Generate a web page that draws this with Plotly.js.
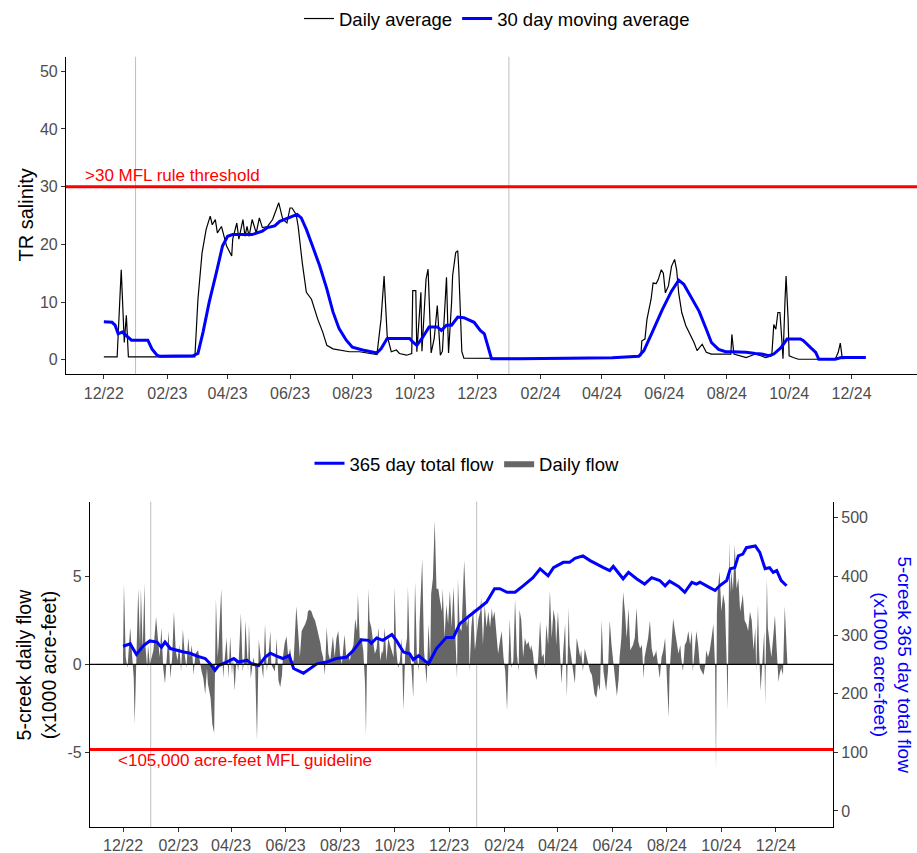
<!DOCTYPE html>
<html>
<head>
<meta charset="utf-8">
<script src="https://cdn.plot.ly/plotly-3.0.1.min.js"></script>
<style>
html,body{margin:0;padding:0;background:#ffffff;}
#chart{width:917px;height:853px;}
</style>
</head>
<body>
<div id="chart"></div>
<script>
// ---------------- DATA (days counted from 2022-12-01) ----------------
const START_DATE = '2022-12-01';

// TR salinity - daily average
const salDay = [0,13,17,20,22,24,52,89,92,96,
  100,104,106,109,111,115,120,122,125,126,
  130,132,136,138,140,142,145,149,152,155,
  160,165,169,171,175,179,182,184,188,190,
  194,198,203,206,209,214,218,224,230,240,
  250,260,267,271,274,277,281,286,289,296,
  301,302,305,306,310,311,315,317,320,323,
  326,329,331,335,337,340,341,344,346,347,
  350,352,400,450,497,525,526,529,531,535,
  537,540,542,545,547,549,552,555,558,560,
  562,565,569,574,577,580,585,589,594,608,
  613,614,616,628,637,647,653,655,657,659,
  661,663,664,666,667,669,670,674,679,715,
  718,720,722,743];
const salDaily = [0.5,0.5,15.6,3,7.7,0.5,0.5,0.5,10.5,18.5,
  22.6,24.9,23.4,24.3,22,23.1,19.7,19.1,18,20.9,
  23.7,20.9,24.3,21.4,23.1,21.4,24.3,22,24.6,22.9,
  23.1,24.3,26.3,27.2,24.3,23.7,26.3,26.3,25.2,23.1,
  16.8,11.7,10.5,8.8,7.1,4.8,2.5,1.9,1.7,1.4,
  1.4,1.1,0.9,7,14.5,4.2,1.4,1.7,1.1,0.8,
  1.1,12,12,1.4,11.7,1.5,14,15.7,1.2,3.7,
  9.4,0.8,1.5,14.3,1.2,10,14.6,18.6,18.9,15.7,
  1.4,0.3,0.2,0.2,0.3,0.7,3.3,3.6,7,10.5,
  13.3,13.2,13.9,15.6,15,11.6,12.8,16.2,17.4,15.6,
  11.6,8.2,5.9,4.1,3,1.6,2.7,1.3,1,1,
  1,4.4,1,0.4,1,0.4,0.7,6.1,5.3,8.2,
  8.2,3,0.2,10.5,14.5,7,0.7,0.4,0.1,0.1,
  1.3,2.9,0.2,0.4];

// TR salinity - 30 day moving average
const maDay = [0,8,11,14,18,22,27,43,47,52,
  55,87,92,97,103,110,116,121,126,145,
  150,155,160,167,172,182,189,193,198,204,
  211,218,224,230,237,243,253,267,271,277,
  299,302,306,311,318,326,330,335,340,346,
  352,362,368,372,379,406,450,497,523,528,
  536,546,555,562,567,575,582,589,594,601,
  608,614,628,637,643,650,655,662,668,681,
  684,691,696,699,715,721,745];
const maVal = [6.6,6.5,6,4.5,4.8,4.2,3.4,3.4,1.9,0.8,
  0.6,0.7,1.1,4.8,10,15.1,19.7,21.4,21.7,21.7,
  22,22.3,22.9,23.2,24,24.7,25.2,24.6,22.6,19.7,
  16.3,12.3,8.3,5.4,3.4,2.2,1.7,1.2,1.9,3.7,
  3.7,3.1,2.5,3.7,5.7,5.7,5.1,6,6,7.4,
  7.3,6.5,5.1,4.5,0.2,0.2,0.25,0.35,0.6,1.6,
  4.7,8.7,11.9,13.8,13.1,10.5,8.4,5.3,3,1.8,
  1.4,1.4,1.3,1.1,1,0.7,1,2.1,3.6,3.6,
  3.3,2.1,1.3,0.1,0.1,0.4,0.4];

// 5-creek daily flow (x1000 acre-feet)
const flowDay = [0,1,3,5,8,10,12,13,15,17,
  19,20,22,24,25,27,28,30,34,37,
  39,41,43,45,47,49,51,53,55,57,
  59,61,63,65,67,69,71,73,75,77,
  79,81,84,88,90,92,94,95,98,100,
  102,103,104,106,107,110,111,112,114,116,
  118,120,122,123,125,127,129,132,134,136,
  137,140,141,143,146,148,150,151,152,155,
  157,159,161,163,165,166,170,172,174,176,
  178,179,181,183,185,187,189,191,193,194,
  196,198,200,202,204,206,207,209,211,213,
  215,217,219,221,222,224,226,228,230,232,
  235,237,239,241,243,245,248,250,252,254,
  256,258,260,262,263,265,267,269,271,272,
  273,275,276,278,280,282,284,286,288,290,
  291,293,295,297,299,301,303,304,306,308,
  310,312,314,316,318,319,321,323,325,327,
  329,331,332,335,337,340,342,344,345,347,
  349,351,353,355,357,358,360,362,364,366,
  368,370,372,374,375,377,379,382,385,387,
  388,390,392,394,398,400,401,403,405,407,
  409,411,413,414,416,418,420,422,424,426,
  428,430,431,433,435,437,439,441,443,444,
  446,448,450,452,454,456,457,459,461,463,
  465,467,469,471,472,474,476,478,480,482,
  484,485,487,489,491,493,495,497,499,500,
  502,504,506,508,510,512,513,515,517,519,
  523,525,527,528,530,532,534,536,538,540,
  541,543,545,547,549,551,553,555,556,558,
  560,562,564,566,568,569,571,573,575,577,
  579,581,583,584,586,588,590,592,594,596,
  597,599,601,603,605,607,609,611,612,614,
  616,618,620,622,624,625,627,629,631,633,
  635,637,638,640,642,644,646,648,650,652,
  653,655,657,659,661,663,664,665,666,668,
  670,672,674,676,677,679,680,681,683,685,
  687,689,691,693,694,696,698,700,702,704,
  706,708,709,711,712,714,716,718,719,721,
  722,724,726,728,730,732,734,735,737,739,
  741,743,744];
const flowVal = [0.6,4.6,0.4,-0.2,2.1,0.8,-0.8,-3.4,0.8,4.3,
  1.1,4.3,0.8,4.6,1.1,-0.2,1.1,0,0.8,2.7,
  1.5,0.4,2.1,-0.2,-1.1,0.4,1.9,-0.8,0.4,3.0,
  0.8,0.2,1.1,-0.4,2.0,0.6,-0.2,1.5,0.4,1.1,
  -0.6,0.6,0.8,-0.4,-0.8,-1.7,-0.2,-1.1,-1.9,-3.4,
  -3.9,-0.2,3.7,0.4,1.1,4.3,1.1,-0.8,0.4,1.5,
  -0.8,1.6,-0.6,0.4,-1.5,0.4,-0.4,2.9,-0.4,0.4,
  2.5,-0.4,2.3,-0.8,0.4,-0.2,-4.3,-0.2,1.4,0,
  -0.8,2.3,-0.4,0.6,1.9,0,-0.4,1.5,-0.9,-1.3,
  -0.6,0.4,1.2,1.6,0.4,0.9,0.2,0.2,2.6,3.3,
  1.9,0.4,1.9,2.1,2.3,2.6,3.0,3.1,3.0,2.7,
  2.5,2.1,1.7,1.2,0.8,0.4,-0.6,2.1,0.6,0.2,
  1.6,0.4,1.5,1.9,0.6,0,1.7,0.4,0.6,0.2,
  0.8,1.1,2.6,1.9,4.0,1.5,1.5,0.8,-1.1,-4.0,
  -0.4,4.3,2.5,2.1,1.3,0.6,0.9,2.1,0.2,0.8,
  0.6,2.1,0.2,1.5,1.1,0.8,0.4,4.4,0.8,-0.2,
  0.2,1.5,-2.6,0.8,1.5,4.4,0.8,-0.2,-1.9,4.7,
  0.6,-0.4,2.3,6.0,0.8,-1.1,2.3,0.2,4.0,4.9,
  8.2,4.3,4.3,3.6,3.0,4.3,1.5,3.4,2.3,4.2,
  2.1,4.4,2.1,-0.8,4.9,2.1,1.9,5.9,2.1,2.8,
  -0.4,2.1,3.2,0.8,2.6,3.0,3.8,1.1,3.4,2.1,
  3.0,2.1,3.2,2.6,3.0,1.5,0.6,1.3,1.9,0.4,
  -0.4,-2.6,-0.4,2.6,-0.2,0.2,3.7,0.6,-0.4,3.1,
  2.5,0.4,1.5,1.1,1.3,0.8,1.1,0.6,-0.4,-0.9,
  0.4,2.5,0.4,0.6,-0.2,2.3,1.1,4.2,1.5,3.1,
  2.5,1.1,3.0,0.8,-1.1,0.8,2.3,-1.9,3.2,1.1,
  0.4,-0.4,-1.1,1.5,0.8,0.4,0.8,-0.4,0.9,0.4,
  -0.4,-0.6,-1.3,-1.7,-1.9,-1.1,-1.5,2.5,-0.4,-1.1,
  -1.5,-0.4,2.5,1.1,0.2,-0.8,-1.8,-0.8,0.4,1.5,
  4.1,3.0,1.5,3.2,0.8,0.9,1.1,1.5,3.2,1.3,
  0.9,1.1,-0.8,0.4,1.1,1.5,2.5,0.9,0.4,0.6,
  0.8,-0.2,-0.8,0.4,0.8,1.5,-0.4,-3.0,-0.4,1.1,
  2.6,1.9,1.1,0.6,1.1,0.4,-0.4,1.1,1.3,1.9,
  1.1,1.9,-0.4,0.8,1.9,1.1,-0.2,-0.4,-0.6,0,
  0.8,0.4,0.8,1.5,2.3,-0.2,-6.0,3.0,4.2,5.3,
  3.0,4.0,3.4,0,-2.6,7.0,4.0,5.3,4.2,6.8,
  4.3,4.9,3.0,3.6,4.0,2.5,2.3,1.9,3.0,2.5,
  0.8,2.1,-0.4,3.4,1.1,-1.5,0.6,1.9,-2.3,4.9,
  2.1,1.1,0.4,1.5,2.8,0.8,-1.0,-0.6,-0.2,-0.6,
  3.3,1.0,0];

// 5-creek 365 day total flow (x1000 acre-feet)
const totDay = [0,8,15,23,30,38,43,47,53,60,
  68,75,83,92,97,103,107,116,124,129,
  139,144,152,159,165,172,179,186,191,202,
  209,217,228,239,250,258,267,275,278,284,
  291,301,306,314,321,325,331,336,342,351,
  362,370,377,388,398,407,416,422,430,439,
  448,459,467,476,482,493,500,506,515,523,
  538,545,549,560,566,575,584,592,601,607,
  612,622,629,637,642,646,657,663,668,676,
  680,685,689,694,698,708,713,719,724,728,
  732,737,743];
const totVal = [281,285,267,282,290,288,279,288,277,274,
  271,269,264,260,252,240,248,254,260,254,
  257,251,248,262,269,264,260,265,243,235,
  243,251,254,260,262,274,292,291,286,295,
  291,301,291,271,268,258,265,258,251,277,
  296,296,319,333,345,356,379,379,373,373,
  384,398,413,401,415,424,424,431,435,427,
  415,410,417,396,407,396,387,398,393,384,
  392,383,373,390,387,390,381,376,384,393,
  413,415,435,438,449,452,441,413,415,407,
  410,393,384];

// axis ticks and reference values
const tickDates = ['2022-12-01','2023-02-01','2023-04-01','2023-06-01','2023-08-01','2023-10-01','2023-12-01',
  '2024-02-01','2024-04-01','2024-06-01','2024-08-01','2024-10-01','2024-12-01'];
const tickLabels = ['12/22','02/23','04/23','06/23','08/23','10/23','12/23','02/24','04/24','06/24','08/24','10/24','12/24'];
const xRange = ['2022-10-25','2025-02-03'];
const yearLines = ['2023-01-01','2024-01-01'];
const salinityThreshold = 30;
const flowGuideline = 105;
const salTicks = [0,10,20,30,40,50];
const flowTicks = [-5,0,5];
const flowTickLabels = ['-5','0','5'];
const totTicks = [0,100,200,300,400,500];

// ---------------- helpers ----------------
const BASE = Date.parse(START_DATE + 'T00:00:00Z');
function toDate(d){ return new Date(BASE + d*86400000).toISOString().slice(0,10); }

const FONT = '"Liberation Sans", Arial, Helvetica, sans-serif';
const BLUE = '#0000FF';
const RED = '#FF0000';

const axisBase = {
  showline:true, linecolor:'#000000', linewidth:1.1,
  ticks:'outside', ticklen:4, tickwidth:1, tickcolor:'#333333',
  tickfont:{family:FONT, size:16, color:'#4D4D4D'},
  showgrid:false, zeroline:false, fixedrange:true
};

const traces = [
  {
    type:'scatter', mode:'lines', name:'Daily average',
    x: salDay.map(toDate), y: salDaily,
    xaxis:'x', yaxis:'y',
    line:{color:'#000000', width:1.2},
    legend:'legend', legendrank:1, hoverinfo:'skip'
  },
  {
    type:'scatter', mode:'lines', name:'30 day moving average',
    x: maDay.map(toDate), y: maVal,
    xaxis:'x', yaxis:'y',
    line:{color:BLUE, width:3},
    legend:'legend', legendrank:2, hoverinfo:'skip'
  },
  {
    type:'scatter', mode:'lines', name:'Daily flow',
    x: flowDay.map(toDate), y: flowVal,
    xaxis:'x2', yaxis:'y2',
    fill:'tozeroy', fillcolor:'#666666',
    line:{color:'#666666', width:0},
    legend:'legend2', legendrank:2, hoverinfo:'skip'
  },
  {
    type:'scatter', mode:'lines', name:'365 day total flow',
    x: totDay.map(toDate), y: totVal,
    xaxis:'x2', yaxis:'y3',
    line:{color:BLUE, width:3},
    legend:'legend2', legendrank:1, hoverinfo:'skip'
  }
];

const shapes = [];
yearLines.forEach(function(d){
  shapes.push({type:'line', xref:'x', yref:'y domain', x0:d, x1:d, y0:0, y1:1,
    line:{color:'#BEBEBE', width:1}, layer:'below'});
  shapes.push({type:'line', xref:'x2', yref:'y2 domain', x0:d, x1:d, y0:0, y1:1,
    line:{color:'#BEBEBE', width:1}, layer:'below'});
});
shapes.push({type:'line', xref:'x domain', yref:'y', x0:0, x1:1, y0:salinityThreshold, y1:salinityThreshold,
  line:{color:RED, width:3}, layer:'above'});
shapes.push({type:'line', xref:'x2 domain', yref:'y2', x0:0, x1:1, y0:0, y1:0,
  line:{color:'#000000', width:1.2}, layer:'above'});
shapes.push({type:'line', xref:'x2 domain', yref:'y3', x0:0, x1:1, y0:flowGuideline, y1:flowGuideline,
  line:{color:RED, width:3}, layer:'above'});

const annotations = [
  {text:'>30 MFL rule threshold', xref:'x domain', yref:'y', x:0.02, y:salinityThreshold,
   xanchor:'left', yanchor:'bottom', showarrow:false, font:{family:FONT, size:17, color:RED}},
  {text:'<105,000 acre-feet MFL guideline', xref:'x2 domain', yref:'y3', x:0.035, y:flowGuideline,
   xanchor:'left', yanchor:'top', showarrow:false, font:{family:FONT, size:17, color:RED}},
  {text:'TR salinity', xref:'paper', yref:'paper', x:26/917, y:1-212.5/853, textangle:-90,
   xanchor:'center', yanchor:'middle', showarrow:false, font:{family:FONT, size:20, color:'#000000'}},
  {text:'5-creek daily flow<br>(x1000 acre-feet)', xref:'paper', yref:'paper', x:36/917, y:1-663.5/853, textangle:-90,
   xanchor:'center', yanchor:'middle', showarrow:false, font:{family:FONT, size:19.5, color:'#000000'}},
  {text:'5-creek 365 day total flow<br>(x1000 acre-feet)', xref:'paper', yref:'paper', x:892/917, y:1-663.5/853, textangle:90,
   xanchor:'center', yanchor:'middle', showarrow:false, font:{family:FONT, size:19, color:BLUE}}
];

const layout = {
  width:917, height:853, autosize:false,
  margin:{l:0, r:0, t:0, b:0, pad:0},
  paper_bgcolor:'#ffffff', plot_bgcolor:'#ffffff',
  font:{family:FONT, color:'#000000'},
  showlegend:true,
  xaxis: Object.assign({}, axisBase, {domain:[66/917, 1], anchor:'y', type:'date', range:xRange,
    tickmode:'array', tickvals:tickDates, ticktext:tickLabels}),
  yaxis: Object.assign({}, axisBase, {domain:[1-372/853, 1-53/853], anchor:'x', range:[-2.5, 52.5],
    tickmode:'array', tickvals:salTicks}),
  xaxis2: Object.assign({}, axisBase, {domain:[90/917, 833/917], anchor:'y2', type:'date', range:xRange,
    tickmode:'array', tickvals:tickDates, ticktext:tickLabels}),
  yaxis2: Object.assign({}, axisBase, {domain:[1-827/853, 1-500/853], anchor:'x2', range:[-9.25, 9.25],
    tickmode:'array', tickvals:flowTicks, ticktext:flowTickLabels}),
  yaxis3: Object.assign({}, axisBase, {overlaying:'y2', side:'right', anchor:'x2', range:[-27.5, 527.5],
    tickmode:'array', tickvals:totTicks}),
  legend:{orientation:'h', x:497/917, xanchor:'center', y:1-15/853, yanchor:'middle',
    font:{family:FONT, size:18.5, color:'#000000'}, bgcolor:'rgba(0,0,0,0)', traceorder:'normal'},
  legend2:{orientation:'h', x:467/917, xanchor:'center', y:1-462/853, yanchor:'middle',
    font:{family:FONT, size:18.5, color:'#000000'}, bgcolor:'rgba(0,0,0,0)', traceorder:'normal'},
  shapes:shapes,
  annotations:annotations
};

Plotly.newPlot('chart', traces, layout, {displayModeBar:false, staticPlot:true});
</script>
</body>
</html>
